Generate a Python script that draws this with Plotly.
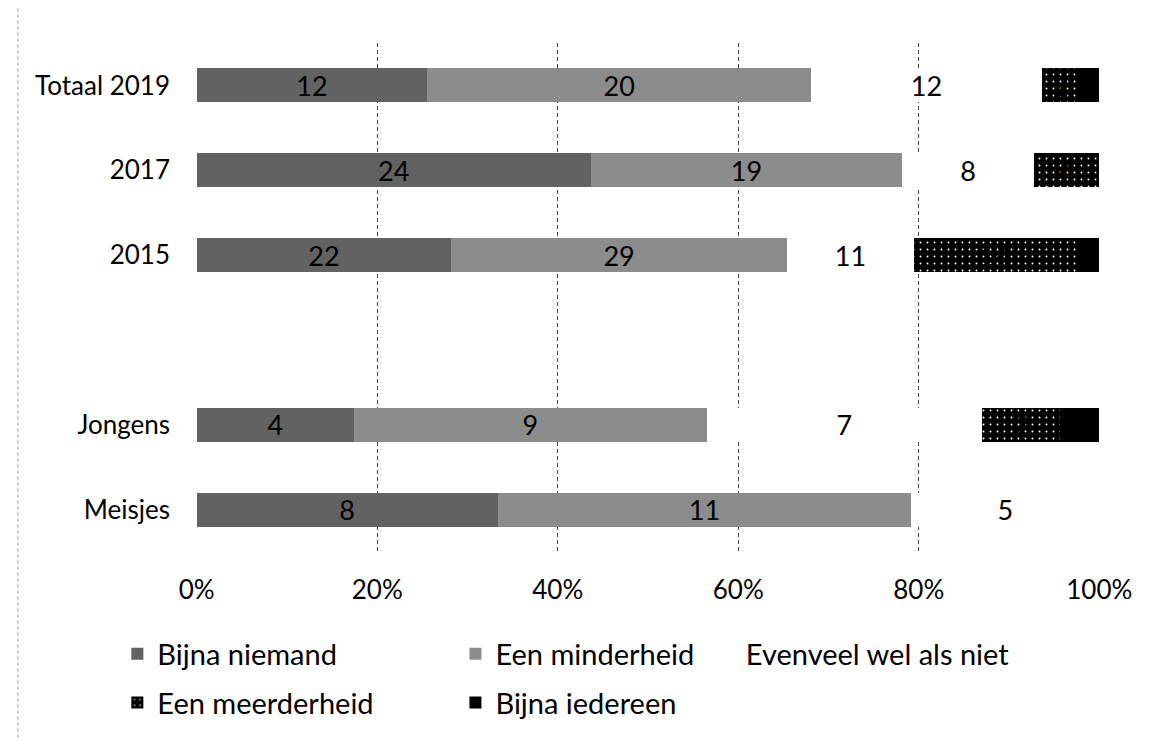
import plotly.graph_objects as go

categories = ["Totaal 2019", "2017", "2015", " ", "Jongens", "Meisjes"]
series_names = ["Bijna niemand", "Een minderheid", "Evenveel wel als niet",
                "Een meerderheid", "Bijna iedereen"]
bijna_niemand = [12, 24, 22, None, 4, 8]
een_minderheid = [20, 19, 29, None, 9, 11]
evenveel = [12, 8, 11, None, 7, 5]
een_meerderheid = [2, 4, 14, None, 2, 0]
bijna_iedereen = [1, 0, 2, None, 1, 0]
tick_vals = [0, 20, 40, 60, 80, 100]
tick_text = ["0%", "20%", "40%", "60%", "80%", "100%"]

values = [bijna_niemand, een_minderheid, evenveel, een_meerderheid, bijna_iedereen]
colors = ["#626262", "#8c8c8c", "#ffffff", "#000000", "#000000"]
legend_ids = ["legend", "legend2", "legend3", "legend", "legend2"]
FONT = "Lato"

fig = go.Figure()
for i, (name, vals) in enumerate(zip(series_names, values)):
    marker = dict(color=colors[i], line=dict(width=0))
    if i == 3:
        marker["pattern"] = dict(shape=".", fgcolor="white", bgcolor="black",
                                 size=7, solidity=0.06, fillmode="replace")
    txt = [("" if (v is None or v == 0) else str(v)) for v in vals]
    fig.add_trace(go.Bar(
        y=categories, x=vals, name=name, orientation="h",
        marker=marker, text=txt, textposition="inside",
        insidetextanchor="middle", textangle=0, constraintext="none",
        textfont=dict(family=FONT, size=27, color="black"),
        legend=legend_ids[i], legendgroup=name,
    ))

leg_common = dict(orientation="v", traceorder="grouped", tracegroupgap=8,
                  font=dict(family=FONT, size=29, color="black"),
                  bgcolor="rgba(0,0,0,0)", xanchor="left", yanchor="top",
                  y=-0.15)

# page body has an 8px margin: compensate in the figure margins
fig.update_layout(
    width=1156, height=741,
    barmode="stack", barnorm="percent", bargap=0.6,
    paper_bgcolor="white", plot_bgcolor="white",
    margin=dict(l=188, r=64, t=35, b=197, autoexpand=False),
    font=dict(family=FONT, size=26, color="black"),
    legend=dict(x=-0.087, **leg_common),
    legend2=dict(x=0.287, **leg_common),
    legend3=dict(x=0.564, **leg_common),
    showlegend=True,
)
fig.update_xaxes(range=[-0.08, 100.08], tickvals=tick_vals, ticktext=tick_text,
                 showgrid=True, gridcolor="#444444",
                 griddash="4px,3px", gridwidth=1, zeroline=False,
                 showline=False, ticks="", ticklabelstandoff=20, automargin=False,
                 tickfont=dict(family=FONT, size=26, color="black"))
fig.update_yaxes(categoryorder="array", categoryarray=categories,
                 autorange="reversed", showgrid=False, zeroline=False,
                 showline=False, ticks="", ticklabelstandoff=25, automargin=False,
                 tickfont=dict(family=FONT, size=26, color="black"))
fig.add_shape(type="line", xref="paper", yref="paper",
              x0=-0.197, x1=-0.197, y0=-0.4, y1=1.08,
              line=dict(color="#999999", width=1, dash="dot"))

fig.write_html("out.html")
